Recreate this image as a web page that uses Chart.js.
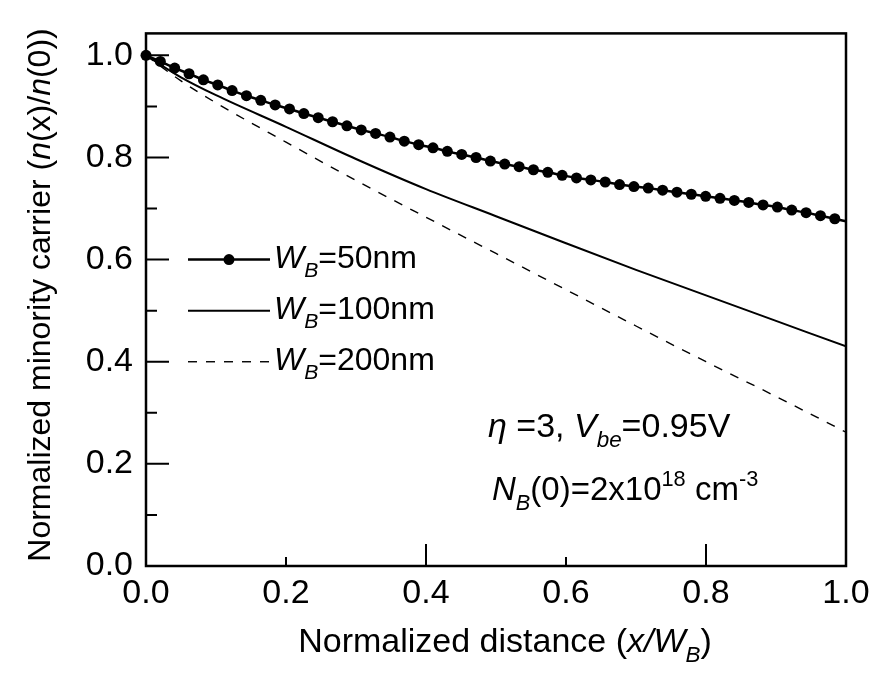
<!DOCTYPE html>
<html>
<head>
<meta charset="utf-8">
<script src="https://cdn.jsdelivr.net/npm/chart.js@4.4.1/dist/chart.umd.min.js"></script>
<style>
  html, body { margin: 0; padding: 0; background: #fff; }
  canvas { display: block; }
</style>
</head>
<body>
<canvas id="myChart" width="882" height="676"></canvas>
<script>
// normalized distance x/W_B and n(x)/n(0)
const x50 = [0, 0.0205, 0.041, 0.0615, 0.082, 0.1025, 0.123, 0.1435, 0.164, 0.1845,
  0.205, 0.2255, 0.246, 0.2665, 0.287, 0.3075, 0.328, 0.3485, 0.369, 0.3895,
  0.41, 0.4305, 0.451, 0.4715, 0.492, 0.5125, 0.533, 0.5535, 0.574, 0.5945,
  0.615, 0.6355, 0.656, 0.6765, 0.697, 0.7175, 0.738, 0.7585, 0.779, 0.7995,
  0.82, 0.8405, 0.861, 0.8815, 0.902, 0.9225, 0.943, 0.9635, 0.984, 1.0];
const y50 = [1.000, 0.988, 0.975, 0.964, 0.952, 0.942, 0.931, 0.921, 0.912, 0.903,
  0.895, 0.886, 0.878, 0.870, 0.862, 0.854, 0.847, 0.840, 0.832, 0.825,
  0.819, 0.812, 0.806, 0.800, 0.793, 0.787, 0.782, 0.776, 0.771, 0.765,
  0.760, 0.756, 0.752, 0.747, 0.743, 0.740, 0.736, 0.732, 0.728, 0.724,
  0.720, 0.716, 0.712, 0.707, 0.703, 0.697, 0.692, 0.686, 0.680, 0.675];

const x100 = [0, 0.05, 0.1, 0.2, 0.3, 0.4, 0.5, 0.6, 0.7, 0.8, 0.9, 1.0];
const y100 = [1.0, 0.957, 0.922, 0.860, 0.797, 0.738, 0.685, 0.632, 0.580, 0.530, 0.480, 0.430];

const x200 = [0, 0.05, 0.1, 0.2, 0.3, 0.4, 0.5, 0.6, 0.7, 0.8, 0.9, 1.0];
const y200 = [1.0, 0.950, 0.907, 0.830, 0.755, 0.683, 0.612, 0.541, 0.470, 0.400, 0.332, 0.262];

const xTickLabels = [0, 0.2, 0.4, 0.6, 0.8, 1.0];
const yTickLabels = [0, 0.2, 0.4, 0.6, 0.8, 1.0];
const xMajorTicks = [0.4, 0.8];
const xMinorTicks = [0.2, 0.6];
const yMajorTicks = [0.2, 0.4, 0.6, 0.8, 1.0];
const yMinorTicks = [0.1, 0.3, 0.5, 0.7, 0.9];

const FONT = '"Liberation Sans", Arial, sans-serif';

const legendText = [
  [{t: 'W', i: 1}, {t: 'B', i: 1, sub: 1}, {t: '=50nm'}],
  [{t: 'W', i: 1}, {t: 'B', i: 1, sub: 1}, {t: '=100nm'}],
  [{t: 'W', i: 1}, {t: 'B', i: 1, sub: 1}, {t: '=200nm'}]
];

function pts(xs, ys) {
  return xs.map((v, i) => ({x: v, y: ys[i]}));
}

// draws a run of text pieces (italic / sub / sup), returns its width
function rich(ctx, segs, x, y, size, measureOnly) {
  let cx = x;
  segs.forEach(s => {
    const fs = (s.sub || s.sup) ? size * 0.66 : size;
    ctx.font = (s.i ? 'italic ' : '') + fs + 'px ' + FONT;
    const dy = s.sub ? size * 0.3 : (s.sup ? -size * 0.42 : 0);
    if (!measureOnly) ctx.fillText(s.t, cx, y + dy);
    cx += ctx.measureText(s.t).width;
  });
  return cx - x;
}

const frame = {
  id: 'frame',
  afterDatasetsDraw(chart) {
    const {ctx, chartArea: a, scales: {x, y}} = chart;
    ctx.save();
    ctx.strokeStyle = '#000';
    ctx.lineWidth = 2;
    ctx.beginPath();
    yMajorTicks.forEach(v => { const p = y.getPixelForValue(v); ctx.moveTo(a.left, p); ctx.lineTo(a.left + 23, p); });
    yMinorTicks.forEach(v => { const p = y.getPixelForValue(v); ctx.moveTo(a.left, p); ctx.lineTo(a.left + 11, p); });
    xMajorTicks.forEach(v => { const p = x.getPixelForValue(v); ctx.moveTo(p, a.bottom); ctx.lineTo(p, a.bottom - 22); });
    xMinorTicks.forEach(v => { const p = x.getPixelForValue(v); ctx.moveTo(p, a.bottom); ctx.lineTo(p, a.bottom - 9); });
    ctx.stroke();
    ctx.lineWidth = 2.5;
    ctx.strokeRect(a.left, a.top, a.right - a.left, a.bottom - a.top);
    ctx.restore();
  },
  afterDraw(chart) {
    const {ctx, chartArea: a, scales: {y}} = chart;
    ctx.save();
    ctx.fillStyle = '#000';
    ctx.strokeStyle = '#000';
    ctx.textBaseline = 'alphabetic';
    ctx.textAlign = 'left';

    // legend
    chart.data.datasets.forEach((ds, i) => {
      const py = y.getPixelForValue(0.6 - i * 0.1);
      const x0 = a.left + 42, x1 = a.left + 124;
      ctx.lineWidth = ds.borderWidth;
      ctx.setLineDash(ds.borderDash || []);
      ctx.beginPath();
      ctx.moveTo(x0, py);
      ctx.lineTo(x1, py);
      ctx.stroke();
      ctx.setLineDash([]);
      if (i === 0) {
        ctx.beginPath();
        ctx.arc((x0 + x1) / 2, py, 5.5, 0, Math.PI * 2);
        ctx.fill();
      }
      rich(ctx, legendText[i], x1 + 4, py + 8, 32);
    });

    // note
    rich(ctx, [{t: '\u03B7', i: 1}, {t: ' =3, '}, {t: 'V', i: 1}, {t: 'be', i: 1, sub: 1}, {t: '=0.95V'}], 488, 437, 34);
    rich(ctx, [{t: 'N', i: 1}, {t: 'B', i: 1, sub: 1}, {t: '(0)=2x10'}, {t: '18', sup: 1}, {t: ' cm'}, {t: '-3', sup: 1}], 492, 500, 33);

    // x title
    const xt = [{t: 'Normalized distance ('}, {t: 'x/W', i: 1}, {t: 'B', i: 1, sub: 1}, {t: ')'}];
    const wx = rich(ctx, xt, 0, 0, 34, true);
    rich(ctx, xt, 505 - wx / 2, 652, 34);

    // y title
    const yt = [{t: 'Normalized minority carrier ('}, {t: 'n', i: 1}, {t: '(x)/'}, {t: 'n', i: 1}, {t: '(0))'}];
    const wy = rich(ctx, yt, 0, 0, 32, true);
    ctx.translate(38, 295);
    ctx.rotate(-Math.PI / 2);
    rich(ctx, yt, -wy / 2, 11.5, 32);
    ctx.restore();
  }
};

const pr50 = x50.map((v, i) => i === x50.length - 1 ? 0 : 5.5);

const config = {
  type: 'line',
  data: {
    datasets: [{
      label: 'WB=50nm',
      data: pts(x50, y50),
      borderColor: '#000',
      backgroundColor: '#000',
      borderWidth: 2.5,
      pointRadius: pr50,
      pointBackgroundColor: '#000',
      pointBorderWidth: 0,
      cubicInterpolationMode: 'monotone',
      clip: 10
    }, {
      label: 'WB=100nm',
      data: pts(x100, y100),
      borderColor: '#000',
      borderWidth: 2,
      pointRadius: 0,
      cubicInterpolationMode: 'monotone'
    }, {
      label: 'WB=200nm',
      data: pts(x200, y200),
      borderColor: '#000',
      borderWidth: 1.4,
      borderDash: [9, 9],
      pointRadius: 0,
      cubicInterpolationMode: 'monotone'
    }]
  },
  options: {
    responsive: false,
    animation: false,
    layout: { padding: { top: 18, right: 36, left: 0, bottom: 0 } },
    plugins: { legend: { display: false }, tooltip: { enabled: false } },
    scales: {
      x: {
        type: 'linear', min: 0, max: 1,
        grid: { display: false, drawTicks: false },
        border: { display: false },
        afterBuildTicks: s => { s.ticks = xTickLabels.map(v => ({value: v})); },
        afterFit: s => { s.height = 110; },
        ticks: { color: '#000', font: { family: FONT, size: 34 }, padding: 7, maxRotation: 0, autoSkip: false,
          callback: v => v.toFixed(1) }
      },
      y: {
        type: 'linear', min: 0, max: 1.043,
        grid: { display: false, drawTicks: false },
        border: { display: false },
        afterBuildTicks: s => { s.ticks = yTickLabels.map(v => ({value: v})); },
        afterFit: s => { s.width = 146; },
        ticks: { color: '#000', font: { family: FONT, size: 34 }, padding: 13, autoSkip: false,
          callback: v => v.toFixed(1) }
      }
    }
  },
  plugins: [frame]
};

var ctx = document.getElementById('myChart').getContext('2d');
grafica = new Chart(ctx, config);
</script>
</body>
</html>
